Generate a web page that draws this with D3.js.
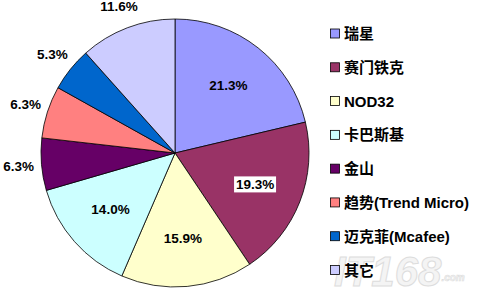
<!DOCTYPE html>
<html><head><meta charset="utf-8">
<script src="https://cdn.jsdelivr.net/npm/d3@7"></script>
<style>
html,body{margin:0;padding:0;background:#fff;}
svg{display:block;}
</style></head>
<body>
<svg id="chart" width="480" height="301"></svg>
<script>
const categories = ["瑞星","赛门铁克","NOD32","卡巴斯基","金山","趋势(Trend Micro)","迈克菲(Mcafee)","其它"];
const values = [21.3, 19.3, 15.9, 14.0, 6.3, 6.3, 5.3, 11.6];
const labels = ["21.3%","19.3%","15.9%","14.0%","6.3%","6.3%","5.3%","11.6%"];
const colors = ["#9999FF","#993366","#FFFFCC","#CCFFFF","#660066","#FF8080","#0066CC","#CCCCFF"];

const W = 480, H = 301;
const cx = 175, cy = 153, r = 134;
const font = "'Liberation Sans', Arial, 'Noto Sans CJK SC', sans-serif";
const svg = d3.select("#chart");

// watermark
const wm = svg.append("text").attr("font-family", font).attr("font-style","italic").attr("font-weight","bold")
  .attr("x", 334).attr("y", 286).attr("font-size", 42)
  .attr("fill", "#f4f4f4").attr("stroke", "#dddddd").attr("stroke-width", 1);
wm.append("tspan").text("IT168");
wm.append("tspan").attr("font-size", 10).attr("dy", -5).attr("stroke-width", 0.6).text(".com");

const pie = d3.pie().sort(null).value(d => d);
const arcs = pie(values);
const arc = d3.arc().innerRadius(0).outerRadius(r);
const inArc = d3.arc().innerRadius(86).outerRadius(86);
const outArc = d3.arc().innerRadius(157).outerRadius(157);

const g = svg.append("g").attr("transform", `translate(${cx},${cy})`);
g.selectAll("path").data(arcs).join("path")
  .attr("d", arc)
  .attr("fill", (d,i) => colors[i])
  .attr("stroke", "#000")
  .attr("stroke-width", 0.8)
  .attr("stroke-linejoin", "round");

const lg = g.append("g").attr("font-family", font).attr("font-weight", "bold").attr("font-size", 13.5);
arcs.forEach((d, i) => {
  const inside = values[i] > 12;
  const [x, y] = inside ? inArc.centroid(d) : outArc.centroid(d);
  if (i === 1) {
    lg.append("rect").attr("x", x - 21).attr("y", y - 8).attr("width", 42).attr("height", 16).attr("fill", "#fff");
  }
  lg.append("text").attr("x", x).attr("y", y).attr("text-anchor", "middle")
    .attr("dominant-baseline", "central").attr("fill", "#000").text(labels[i]);
});

// legend
const leg = svg.append("g").attr("font-family", font).attr("font-weight", "bold").attr("font-size", 15);
const ly = d3.scaleLinear().domain([0, categories.length - 1]).range([33.5, 270]);
categories.forEach((c, i) => {
  const y = ly(i);
  leg.append("rect").attr("x", 330.5).attr("y", y - 4.5).attr("width", 9).attr("height", 9)
    .attr("fill", colors[i]).attr("stroke", "#000").attr("stroke-width", 0.8);
  leg.append("text").attr("x", 344).attr("y", y).attr("dominant-baseline", "central")
    .attr("fill", "#000").text(c);
});
</script>
</body></html>
